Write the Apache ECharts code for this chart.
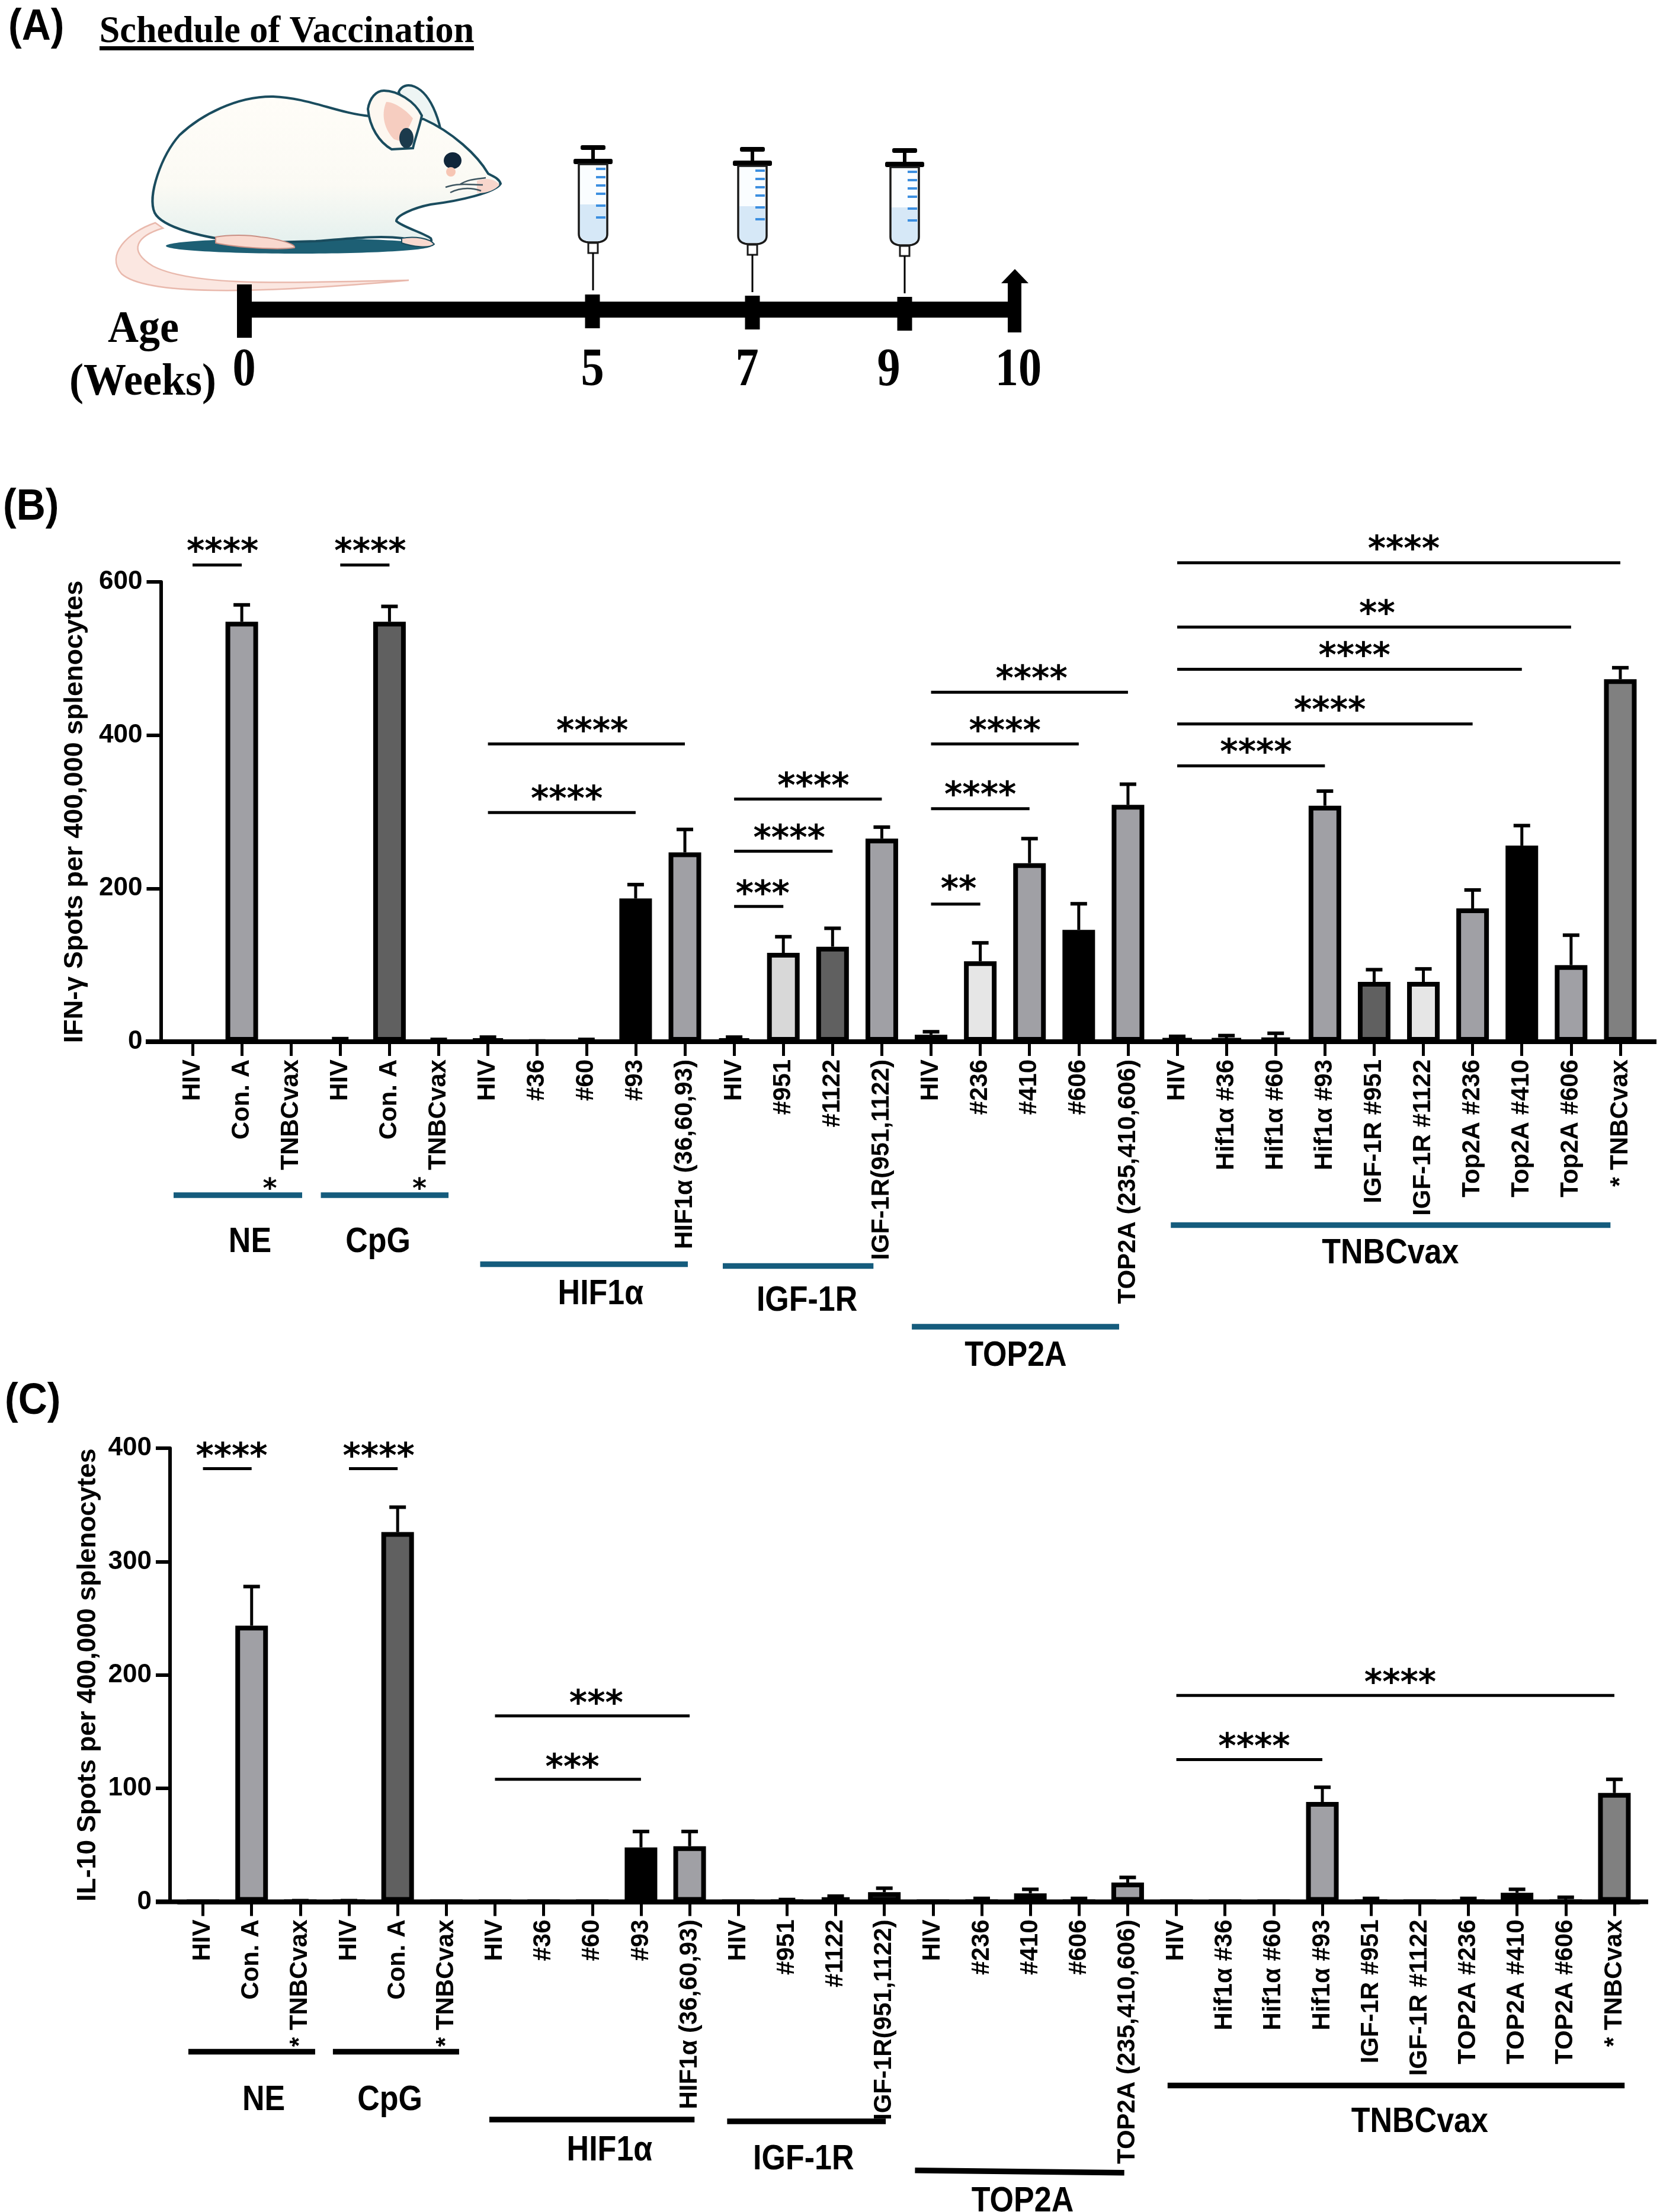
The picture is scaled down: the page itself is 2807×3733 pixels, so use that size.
<!DOCTYPE html>
<html><head><meta charset="utf-8">
<script src="https://cdn.jsdelivr.net/npm/echarts@6/dist/echarts.min.js"></script>
<style>html,body{margin:0;padding:0;background:#fff}#c{width:2807px;height:3733px}</style>
</head><body><div id="c"></div>
<script>
// ---------- data ----------
const categoriesB = ['HIV','Con. A','TNBCvax','HIV','Con. A','TNBCvax','HIV','#36','#60','#93','HIF1α (36,60,93)','HIV','#951','#1122','IGF-1R(951,1122)','HIV','#236','#410','#606','TOP2A (235,410,606)','HIV','Hif1α #36','Hif1α #60','Hif1α #93','IGF-1R #951','IGF-1R #1122','Top2A #236','Top2A #410','Top2A #606','* TNBCvax'];
const valuesB = [0,548,0, 0,548,0, 3,0,0,187,247, 3,116,124,265, 9,105,233,146,309, 4,4,5,308,78,78,174,256,100,473];
const errorTopB = [0,570,0, 4,568,3, 6,1,3,205,277, 6,137,148,280, 13,129,265,180,336, 7,8,11,327,94,95,198,282,139,488];
const categoriesC = ['HIV','Con. A','* TNBCvax','HIV','Con. A','* TNBCvax','HIV','#36','#60','#93','HIF1α (36,60,93)','HIV','#951','#1122','IGF-1R(951,1122)','HIV','#236','#410','#606','TOP2A (235,410,606)','HIV','Hif1α #36','Hif1α #60','Hif1α #93','IGF-1R #951','IGF-1R #1122','TOP2A #236','TOP2A #410','TOP2A #606','* TNBCvax'];
const valuesC = [0,243.5,0, 0,326,0, 0,0,0,48,49, 0,0,4,8.5, 0,0,7.5,0,17, 0,0,0,88,0,0,0,8,0,96];
const errorTopC = [0,278,1, 1,348,0, 0,0,0,62,62, 0,2,5,12, 0,3,11,3,21.5, 0,0,0,101,3,0,3,11,4,108];
const ticksB = [0,200,400,600];
const ticksC = [0,100,200,300,400];
// significance: from index, to index, y value, stars, star index position, star y value
const sigB = [
 [0,1,622,'****',0.61,648],[3,4,622,'****',3.61,648],
 [6,10,388.6,'****',8.12,414],[6,9,299,'****',7.6,325],
 [11,14,316.6,'****',12.61,342],[11,13,248.5,'****',12.12,274],[11,12,176.5,'***',11.58,201],
 [15,19,456,'****',17.04,482],[15,18,388.6,'****',16.5,414],[15,17,304,'****',16.0,330],[15,16,179.5,'**',15.56,207],
 [20,29,625,'****',24.6,651],[20,28,541,'**',24.06,567],[20,27,486,'****',23.6,512],[20,26,414.7,'****',23.1,441],[20,23,360,'****',21.6,386]
];
const sigC = [
 [0,1,382,'****',0.59,398.6],[3,4,382,'****',3.61,398.6],
 [6,10,164,'***',8.08,180.6],[6,9,108,'***',7.59,124],
 [20,29,182,'****',24.6,199],[20,23,125.4,'****',21.6,142.6]
];
// group names
const groupNames = ['NE','CpG','HIF1α','IGF-1R','TOP2A','TNBCvax'];
// group underline: index from, index to, y value at each end
const groupLinesB = [[-0.385,2.226,-200.3,-200.3],[2.606,5.199,-200.3,-200.3],[5.842,10.06,-290.3,-290.3],[10.77,13.83,-292.7,-292.7],[14.61,18.82,-371.9,-371.9],[19.87,28.80,-239.4,-239.4]];
const groupLabelsB = [[1.167,-258.8],[3.767,-258.8],[8.29,-326.7],[12.48,-335.6],[16.72,-407.5],[24.33,-273.4]];
const extraStarsB = [[1.57,-184.8],[4.61,-184.8]];
const groupLinesC = [[-0.30,2.305,-132.2,-132.2],[2.67,5.263,-132.2,-132.2],[5.884,10.10,-192,-192],[10.77,14.03,-193.6,-193.6],[14.63,18.93,-236.8,-238.9],[19.82,29.21,-162,-162]];
const groupLabelsC = [[1.247,-173.2],[3.84,-173.2],[8.355,-217.6],[12.34,-225.2],[16.84,-262.5],[25.0,-192.5]];
// schedule
const scheduleWeeks = ['0','5','7','9','10'];

// ---------- styles ----------
const G='#a0a0a5', D='#606060', K='#000000', L='#e6e6e6', M='#808080', W='#ffffff';
const fillsB=[W,G,W, W,D,W, K,W,W,K,G, K,'#d8d8d8',D,G, K,L,G,K,G, K,K,K,G,D,L,G,K,G,M];
const fillsC=[W,G,W, W,D,W, W,W,W,K,G, W,W,K,G, W,W,G,W,G, W,W,W,G,W,W,W,K,W,M];
const SANS='"Liberation Sans", Arial, sans-serif', SERIF='"Liberation Serif", "Times New Roman", serif', STAR='"DejaVu Sans", sans-serif';
const TEAL='#155c7d';

function txt(t,x,y,font,extra){
  extra=extra||{};
  return {type:'text',x:x,y:y,scaleX:extra.scaleX||1,scaleY:extra.scaleY||1,silent:true,
    style:{text:t,font:font,fill:extra.fill||'#000',align:extra.align||'center',textAlign:extra.align||'center',verticalAlign:'middle',textVerticalAlign:'middle'}};
}
function xLin(api,v){const a=api.coord([0,0])[0],b=api.coord([1,0])[0];return a+v*(b-a);}
function yLin(api,v){return api.coord([0,v])[1];}

function panelSeries(gridIdx,cats,vals,errs,fills,sig,glines,glabels,gcolor,extraStars){
  const s=[];
  s.push({type:'bar',xAxisIndex:gridIdx,yAxisIndex:gridIdx,barWidth:55,silent:true,z:3,
    data:vals.map((v,i)=>({value:v,itemStyle:{color:fills[i],borderColor:'#000',borderWidth:8}}))});
  // error whiskers
  s.push({type:'custom',xAxisIndex:gridIdx,yAxisIndex:gridIdx,silent:true,z:4,
    data:vals.map((v,i)=>[i,v,errs[i]]),
    renderItem:(p,api)=>{
      const i=p.dataIndex, e=errs[i], v=vals[i];
      if(!(e>v)) return null;
      const a=api.coord([i,v]), b=api.coord([i,e]);
      return {type:'group',children:[
        {type:'line',shape:{x1:a[0],y1:a[1],x2:b[0],y2:b[1]},style:{stroke:'#000',lineWidth:5}},
        {type:'line',shape:{x1:a[0]-14,y1:b[1],x2:a[0]+14,y2:b[1]},style:{stroke:'#000',lineWidth:6}}
      ]};
    }});
  // significance brackets
  s.push({type:'custom',xAxisIndex:gridIdx,yAxisIndex:gridIdx,silent:true,z:5,clip:false,
    data:sig.map(d=>[d[0],d[2]]),
    renderItem:(p,api)=>{
      const d=sig[p.dataIndex], y=yLin(api,d[2]);
      return {type:'group',children:[
        {type:'line',shape:{x1:xLin(api,d[0]),y1:y,x2:xLin(api,d[1]),y2:y},style:{stroke:'#000',lineWidth:5}},
        txt(d[3],xLin(api,d[4]),yLin(api,d[5])+14,'bold 58px '+STAR)
      ]};
    }});
  // group underlines
  s.push({type:'custom',xAxisIndex:gridIdx,yAxisIndex:gridIdx,silent:true,z:5,clip:false,
    data:glines.map(()=>[0,0]),
    renderItem:(p,api)=>{
      const d=glines[p.dataIndex];
      return {type:'line',shape:{x1:xLin(api,d[0]),y1:yLin(api,d[2]),x2:xLin(api,d[1]),y2:yLin(api,d[3])},style:{stroke:gcolor,lineWidth:9.5}};
    }});
  // group names
  s.push({type:'custom',xAxisIndex:gridIdx,yAxisIndex:gridIdx,silent:true,z:5,clip:false,
    data:glabels.map(()=>[0,0]),
    renderItem:(p,api)=>{
      const d=glabels[p.dataIndex];
      return txt(groupNames[p.dataIndex],xLin(api,d[0]),yLin(api,d[1])+4,'bold 52px '+SANS,{scaleY:1.14});
    }});
  if(extraStars){
    s.push({type:'custom',xAxisIndex:gridIdx,yAxisIndex:gridIdx,silent:true,z:5,clip:false,
      data:extraStars.map(()=>[0,0]),
      renderItem:(p,api)=>{
        const d=extraStars[p.dataIndex];
        return txt('*',xLin(api,d[0]),yLin(api,d[1])+12,'bold 46px '+STAR);
      }});
  }
  return s;
}

// ---------- panel A ----------
function syringe(x,y){
  const ticks=[38,52,66,80,100,120];
  const ch=[
    {type:'rect',shape:{x:-21,y:0,width:42,height:8,r:3},style:{fill:'#000'}},
    {type:'rect',shape:{x:-3,y:6,width:6,height:20},style:{fill:'#000'}},
    {type:'rect',shape:{x:-33,y:23,width:66,height:9,r:3},style:{fill:'#000'}},
    {type:'path',shape:{pathData:'M-24 32 L24 32 L24 150 Q24 162 8 164 L-8 164 Q-24 162 -24 150 Z'},style:{fill:'#fafdff',stroke:'#1a1a1a',lineWidth:3.5}},
    {type:'path',shape:{pathData:'M-22 100 L22 100 L22 150 Q22 160 8 162 L-8 162 Q-22 160 -22 150 Z'},style:{fill:'#d6e8f7'}},
    {type:'rect',shape:{x:-8,y:165,width:16,height:17},style:{fill:'#fff',stroke:'#1a1a1a',lineWidth:3}},
    {type:'line',shape:{x1:0,y1:182,x2:0,y2:245},style:{stroke:'#000',lineWidth:3}}
  ];
  ticks.forEach(t=>ch.push({type:'rect',shape:{x:5,y:t,width:16,height:4},style:{fill:'#3c8fe0'}}));
  return {type:'group',x:x,y:y,children:ch};
}
function mouse(){
  const line='#1a4c5e';
  return [
    {type:'path',shape:{pathData:'M262 376 C215 392 178 430 205 462 C245 498 420 497 690 473 C500 476 330 486 258 449 C214 422 232 398 275 385 Z'},style:{fill:'#fbe7e1',stroke:'#e9b9ad',lineWidth:2.5}},
    {type:'ellipse',shape:{cx:504,cy:415,rx:224,ry:13},style:{fill:'#1d5f74'}},
    {type:'path',shape:{pathData:'M673 155 C682 135 715 140 735 190 C745 215 748 240 745 262 L700 240 Z'},style:{fill:'#eef5f4',stroke:line,lineWidth:4}},
    {type:'path',shape:{pathData:'M624 196 C570 191 521 165 461 163 C400 162 339 194 303 228 C273 262 248 330 261 359 C273 383 339 402 424 410 L533 407 C594 402 642 397 679 402 C715 412 733 412 727 402 C715 393 679 383 669 373 C669 364 697 351 727 345 C776 339 836 325 845 310 C842 300 830 297 824 293 C806 262 764 223 715 201 Z'},
      style:{fill:new echarts.graphic.LinearGradient(0,0,0,1,[{offset:0,color:'#fffdf8'},{offset:0.6,color:'#fbfaf4'},{offset:1,color:'#e4f0ee'}]),stroke:line,lineWidth:4}},
    {type:'path',shape:{pathData:'M661 252 C640 240 624 215 621 184 C624 165 635 153 648 153 C670 153 700 170 712 195 C708 215 700 235 697 250 Z'},style:{fill:'#fdf7f0',stroke:line,lineWidth:4}},
    {type:'path',shape:{pathData:'M665 235 C650 220 642 195 652 172 C668 172 690 190 697 200 C690 215 685 225 682 240 Z'},style:{fill:'#f6cdc0'}},
    {type:'ellipse',shape:{cx:686,cy:233,rx:12,ry:17},style:{fill:'#1b3a4c'}},
    {type:'ellipse',shape:{cx:764,cy:271,rx:15,ry:14},style:{fill:'#10263a'}},
    {type:'circle',shape:{cx:761,cy:290,r:8},style:{fill:'#f7c6b4'}},
    {type:'path',shape:{pathData:'M805 305 C825 298 838 305 843 312 C835 322 815 328 805 325 Z'},style:{fill:'#f8d6cc'}},
    {type:'path',shape:{pathData:'M775 312 C790 302 805 302 820 300 M752 316 C775 308 795 312 815 312 M760 325 C780 315 800 318 812 322'},style:{fill:'none',stroke:'#3d5560',lineWidth:2.5}},
    {type:'path',shape:{pathData:'M364 400 C385 396 420 396 440 400 C470 403 500 412 497 418 C470 422 400 418 364 410 Z'},style:{fill:'#f9d9cf',stroke:'#c98f84',lineWidth:2}},
    {type:'path',shape:{pathData:'M678 402 C700 398 725 402 733 412 C725 420 695 416 678 410 Z'},style:{fill:'#f9d9cf',stroke:'#1a4c5e',lineWidth:2}}
  ];
}
function panelA(){
  const big='bold 90px '+SERIF;
  const labelX=[412,1000,1261,1500,1719];
  const tickRects=[[1000,497,554],[1270,499,556],[1527,501,558]];
  const ch=[].concat(mouse());
  ch.push(syringe(1001,245),syringe(1270,248),syringe(1527,250));
  ch.push({type:'rect',shape:{x:412,y:509,width:1300,height:27},style:{fill:'#000'}});
  ch.push({type:'rect',shape:{x:400,y:480,width:25,height:90},style:{fill:'#000'}});
  tickRects.forEach(t=>ch.push({type:'rect',shape:{x:t[0]-12.5,y:t[1],width:25,height:t[2]-t[1]},style:{fill:'#000'}}));
  ch.push({type:'rect',shape:{x:1701,y:475,width:23,height:86},style:{fill:'#000'}});
  ch.push({type:'polygon',shape:{points:[[1690,478],[1713,454],[1736,478]]},style:{fill:'#000'}});
  scheduleWeeks.forEach((w,i)=>ch.push(txt(w,labelX[i],627,big,{scaleX:0.87})));
  ch.push(txt('Age',242,557,'bold 72px '+SERIF,{scaleY:1.06}));
  ch.push(txt('(Weeks)',241,646,'bold 72px '+SERIF,{scaleY:1.06}));
  ch.push(txt('Schedule of Vaccination',484,54,'bold 64px '+SERIF,{scaleX:0.97}));
  ch.push({type:'rect',shape:{x:168,y:78,width:632,height:7},style:{fill:'#000'}});
  ch.push(txt('(A)',14,47,'bold 68px '+SANS,{align:'left',scaleY:1.08}));
  ch.push(txt('(B)',5,857,'bold 68px '+SANS,{align:'left',scaleY:1.08}));
  ch.push(txt('(C)',8,2366,'bold 68px '+SANS,{align:'left',scaleY:1.08}));
  return {type:'group',children:ch};
}

function xAxisCfg(cats,idx){
  return {type:'category',gridIndex:idx,data:cats,boundaryGap:true,
    axisLine:{show:true,onZero:true,lineStyle:{color:'#000',width:8}},
    axisTick:{show:true,alignWithLabel:true,length:24,lineStyle:{color:'#000',width:5}},
    axisLabel:{interval:0,rotate:90,margin:30,color:'#000',fontFamily:'Liberation Sans',fontWeight:'bold',fontSize:42},
    splitLine:{show:false}};
}
function yAxisCfg(idx,max,step,name,off,gap,size){
  return {type:'value',gridIndex:idx,min:0,max:max,interval:step,offset:off,
    name:name,nameLocation:'middle',nameRotate:90,nameGap:gap,
    nameTextStyle:{color:'#000',fontFamily:'Liberation Sans',fontWeight:'bold',fontSize:size},
    axisLine:{show:true,lineStyle:{color:'#000',width:6}},
    axisTick:{show:true,length:24,lineStyle:{color:'#000',width:6}},
    axisLabel:{margin:31,color:'#000',fontFamily:'Liberation Sans',fontWeight:'bold',fontSize:44},
    splitLine:{show:false}};
}

const chart=echarts.init(document.getElementById('c'),null,{renderer:'canvas',width:2807,height:3733});
const gB={left:283.45,top:982,width:2493.05,height:776};
const gC={left:301.5,top:2444,width:2464.5,height:765.5};
chart.setOption({
  animation:false,backgroundColor:'#fff',
  grid:[gB,gC],
  xAxis:[xAxisCfg(categoriesB,0),xAxisCfg(categoriesC,1)],
  yAxis:[yAxisCfg(0,ticksB[ticksB.length-1],ticksB[1],'IFN-γ Spots per 400,000 splenocytes',12,122,45),
         yAxisCfg(1,ticksC[ticksC.length-1],ticksC[1],'IL-10 Spots per 400,000 splenocytes',14.5,116,44.5)],
  series:[
    {type:'custom',coordinateSystem:'none',silent:true,z:1,data:[0],renderItem:()=>panelA()},
    ...panelSeries(0,categoriesB,valuesB,errorTopB,fillsB,sigB,groupLinesB,groupLabelsB,TEAL,extraStarsB),
    ...panelSeries(1,categoriesC,valuesC,errorTopC,fillsC,sigC,groupLinesC,groupLabelsC,'#000',null)
  ],
  graphic:[
    {type:'rect',z:0,silent:true,shape:{x:246,y:1754,width:2550,height:8},style:{fill:'#000'}},
    {type:'rect',z:0,silent:true,shape:{x:263,y:3205.5,width:2519,height:8},style:{fill:'#000'}}
  ]
});
</script></body></html>
